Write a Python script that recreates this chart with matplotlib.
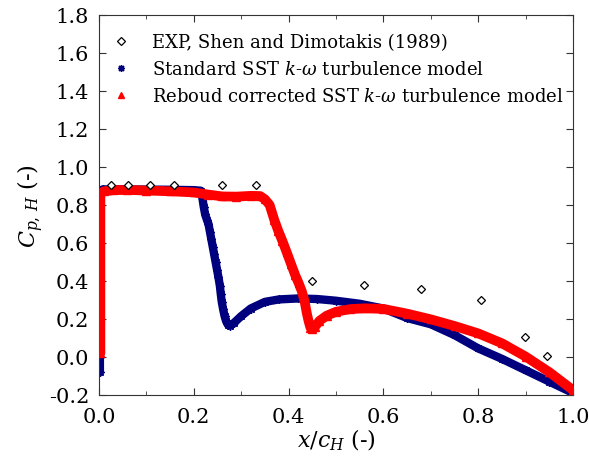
import matplotlib
matplotlib.use("Agg")
import matplotlib.pyplot as plt
from matplotlib.ticker import MultipleLocator

plt.rcParams["font.family"] = ["DejaVu Serif"]
plt.rcParams["mathtext.fontset"] = "dejavuserif"

# Experimental data (Shen & Dimotakis 1989)
exp_x = [0.025, 0.061, 0.108, 0.158, 0.259, 0.331, 0.449, 0.559, 0.679, 0.806, 0.899, 0.945]
exp_y = [0.905, 0.905, 0.905, 0.905, 0.905, 0.905, 0.400, 0.379, 0.358, 0.298, 0.104, 0.007]

# Standard SST k-omega
sst_x = [0.002, 0.002, 0.002, 0.002, 0.002, 0.002, 0.003, 0.008, 0.05, 0.10, 0.15, 0.20,
         0.215, 0.218, 0.221, 0.224, 0.228, 0.231, 0.234, 0.237, 0.240, 0.243, 0.246,
         0.249, 0.252, 0.255, 0.257, 0.259, 0.262, 0.265, 0.268, 0.272, 0.277,
         0.285, 0.30, 0.32, 0.35, 0.38, 0.42, 0.46, 0.50, 0.55, 0.60, 0.65, 0.70,
         0.75, 0.80, 0.85, 0.90, 0.95, 1.00]
sst_y = [-0.08, 0.00, 0.20, 0.40, 0.60, 0.80, 0.87, 0.882, 0.882, 0.881, 0.880, 0.878,
         0.875, 0.84, 0.79, 0.75, 0.72, 0.70, 0.66, 0.62, 0.58, 0.54, 0.50,
         0.46, 0.42, 0.375, 0.33, 0.29, 0.25, 0.215, 0.19, 0.17, 0.165,
         0.18, 0.215, 0.255, 0.29, 0.303, 0.308, 0.305, 0.296, 0.28, 0.255, 0.205, 0.172,
         0.115, 0.045, -0.01, -0.07, -0.13, -0.19]

# Reboud corrected SST k-omega
reb_x = [0.003, 0.003, 0.003, 0.003, 0.003, 0.003, 0.01, 0.03, 0.06, 0.10, 0.15, 0.20,
         0.23, 0.26, 0.29, 0.32, 0.34, 0.35, 0.36, 0.37, 0.378, 0.387, 0.396, 0.405,
         0.414, 0.421, 0.428, 0.434, 0.438, 0.442, 0.446, 0.450, 0.456, 0.465, 0.48,
         0.50, 0.53, 0.56, 0.60, 0.65, 0.70, 0.75, 0.80, 0.85, 0.90, 0.95, 1.00]
reb_y = [0.02, 0.20, 0.40, 0.60, 0.80, 0.86, 0.872, 0.878, 0.879, 0.876, 0.872, 0.866,
         0.855, 0.845, 0.844, 0.848, 0.847, 0.83, 0.80, 0.72, 0.665, 0.61, 0.551, 0.49,
         0.43, 0.39, 0.345, 0.29, 0.235, 0.19, 0.155, 0.147, 0.16, 0.19, 0.217,
         0.238, 0.252, 0.256, 0.253, 0.228, 0.198, 0.163, 0.124, 0.072, 0.002, -0.08, -0.175]

fig = plt.figure(figsize=(5.89, 4.64), dpi=100)
ax = fig.add_axes([0.168, 0.1466, 0.805, 0.819])

ax.plot(sst_x, sst_y, color="#00007f", lw=6, solid_capstyle="round", zorder=2)
ax.plot(sst_x, sst_y, ls="none", marker=(8, 2, 0), ms=6, mew=1, color="#00007f", zorder=2)
ax.plot(reb_x, reb_y, color="#ff0000", lw=7, solid_capstyle="round", zorder=3)
ax.plot(reb_x, reb_y, ls="none", marker="^", ms=5.5, color="#ff0000", zorder=3)
ax.plot(exp_x, exp_y, ls="none", marker="D", ms=4.5, mfc="white", mec="black", mew=0.9, zorder=4)

# proxy handles for the legend
h_exp, = ax.plot([], [], ls="none", marker="D", ms=4, mfc="white", mec="black", mew=0.9)
h_sst, = ax.plot([], [], ls="none", marker=(8, 2, 0), ms=5, mew=1, color="#00007f")
h_reb, = ax.plot([], [], ls="none", marker="^", ms=5, color="#ff0000")
ax.legend([h_exp, h_sst, h_reb],
          ["EXP, Shen and Dimotakis (1989)",
           r"Standard SST $k$-$\omega$ turbulence model",
           r"Reboud corrected SST $k$-$\omega$ turbulence model"],
          loc="upper left", bbox_to_anchor=(-0.025, 0.995), frameon=False,
          fontsize=13, handletextpad=0.7, labelspacing=0.5)

ax.set_xlim(0, 1.0)
ax.set_ylim(-0.2, 1.8)
ax.xaxis.set_major_locator(MultipleLocator(0.2))
ax.xaxis.set_minor_locator(MultipleLocator(0.1))
ax.yaxis.set_major_locator(MultipleLocator(0.2))
ax.tick_params(which="both", direction="in", top=True, right=True, labelsize=15, color="#333333")
ax.tick_params(which="major", length=5)
ax.tick_params(which="minor", length=3)
ax.tick_params(axis="x", pad=9)
ax.tick_params(axis="y", pad=7)
for s in ax.spines.values():
    s.set_color("#333333")
ax.xaxis.set_major_formatter(plt.FuncFormatter(lambda v, p: f"{v:.1f}"))
ax.yaxis.set_major_formatter(plt.FuncFormatter(lambda v, p: f"{v:.1f}"))

ax.set_xlabel(r"$x/c_H$ (-)", fontsize=16, labelpad=0)
ax.set_ylabel(r"$C_{p,\,H}$ (-)", fontsize=16, labelpad=2)

fig.savefig("out.png", dpi=100)
